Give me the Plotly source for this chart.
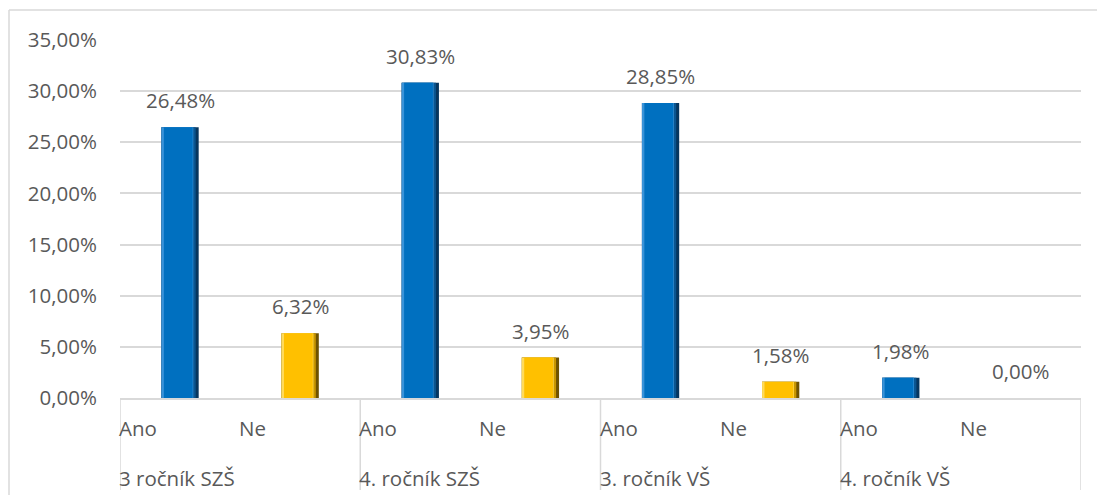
import plotly.graph_objects as go

groups = ["3 ročník SZŠ", "4. ročník SZŠ", "3. ročník VŠ", "4. ročník VŠ"]
answers = ["Ano", "Ne"]
values = [0.2648, 0.0632, 0.3083, 0.0395, 0.2885, 0.0158, 0.0198, 0.0000]
value_labels = ["26,48%", "6,32%", "30,83%", "3,95%", "28,85%", "1,58%", "1,98%", "0,00%"]
tick_vals = [0, 0.05, 0.10, 0.15, 0.20, 0.25, 0.30, 0.35]
tick_text = ["0,00%", "5,00%", "10,00%", "15,00%", "20,00%", "25,00%", "30,00%", "35,00%"]

BLUE = "#0070C0"
GOLD = "#FFC000"
FONT = "Open Sans"
TXT = "#595959"
GRID = "#D9D9D9"
FS = 20.5

n = len(values)
xs = list(range(n))
colors = [BLUE if i % 2 == 0 else GOLD for i in range(n)]
edge = ["#06365E" if i % 2 == 0 else "#6E5200" for i in range(n)]
mid = ["#0A5590" if i % 2 == 0 else "#C89600" for i in range(n)]
light = ["#3A93D8" if i % 2 == 0 else "#FFDB5C" for i in range(n)]

BW = 0.31
fig = go.Figure()
fig.add_trace(go.Bar(x=xs, y=values, width=BW, offset=-BW / 2,
                     marker=dict(color=edge, line=dict(width=0)), hoverinfo="skip"))
fig.add_trace(go.Bar(x=xs, y=values, width=BW - 0.025, offset=-BW / 2,
                     marker=dict(color=mid, line=dict(width=0)), hoverinfo="skip"))
fig.add_trace(go.Bar(x=xs, y=values, width=BW - 0.045, offset=-BW / 2,
                     marker=dict(color=light, line=dict(width=0)), hoverinfo="skip"))
fig.add_trace(go.Bar(x=xs, y=values, width=BW - 0.07, offset=-BW / 2 + 0.02,
                     marker=dict(color=colors, line=dict(width=0)), hoverinfo="skip"))

annotations = []
for i, (v, t) in enumerate(zip(values, value_labels)):
    annotations.append(dict(x=i, y=v, xref="x", yref="y", text=t, showarrow=False,
                            yanchor="bottom", yshift=11,
                            font=dict(family=FONT, size=FS, color=TXT)))
for gi, g in enumerate(groups):
    for ai, a in enumerate(answers):
        idx = gi * 2 + ai
        annotations.append(dict(x=idx - 0.5, y=-0.0838, xref="x", yref="paper", text=a,
                                showarrow=False, xanchor="left", yanchor="middle", xshift=-3,
                                font=dict(family=FONT, size=FS, color=TXT)))
    annotations.append(dict(x=gi * 2 - 0.5, y=-0.2235, xref="x", yref="paper", text=g,
                            showarrow=False, xanchor="left", yanchor="middle", xshift=-3,
                            font=dict(family=FONT, size=FS, color=TXT)))

shapes = []
for gi in range(len(groups) + 1):
    xb = gi * 2 - 0.5
    shapes.append(dict(type="line", xref="x", yref="paper", x0=xb, x1=xb, y0=0, y1=-0.257,
                       line=dict(color=GRID, width=1.5)))
bx0 = (9 - 120) / 961
bx1 = (1097 - 120) / 961
by0 = (398 - 495) / 358
by1 = (398 - 10) / 358
shapes.append(dict(type="line", xref="paper", yref="paper", x0=bx0, x1=bx1, y0=by1, y1=by1,
                   line=dict(color=GRID, width=1.5)))
shapes.append(dict(type="line", xref="paper", yref="paper", x0=bx0, x1=bx0, y0=by0, y1=by1,
                   line=dict(color=GRID, width=1.5)))

fig.update_layout(
    width=1097, height=498,
    margin=dict(l=120, r=16, t=40, b=100),
    paper_bgcolor="white", plot_bgcolor="white",
    showlegend=False,
    barmode="overlay",
    annotations=annotations,
    shapes=shapes,
    font=dict(family=FONT, color=TXT),
)
fig.update_xaxes(range=[-0.5, n - 0.5], showticklabels=False, showgrid=False,
                 showline=True, linecolor=GRID, linewidth=1.5, zeroline=False, ticks="")
fig.update_yaxes(range=[0, 0.35], tickvals=tick_vals, ticktext=tick_text,
                 showgrid=True, gridcolor=GRID, gridwidth=1.5, zeroline=False,
                 showline=False, ticks="", ticklabelstandoff=22,
                 tickfont=dict(family=FONT, size=FS, color=TXT))

fig.write_html("out.html", config={"displayModeBar": False},
               post_script="document.body.style.margin='0';document.body.style.overflow='hidden';")
